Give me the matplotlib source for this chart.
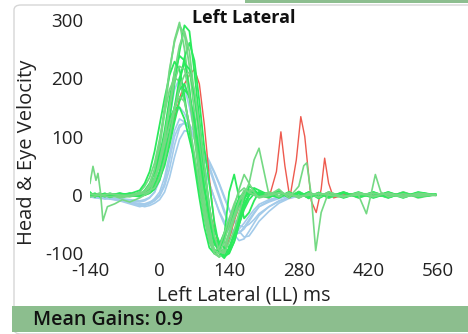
import matplotlib
matplotlib.use("Agg")
import matplotlib.pyplot as plt
from matplotlib.patches import FancyBboxPatch, Rectangle

plt.rcParams['font.family'] = ['Open Sans', 'DejaVu Sans']
plt.rcParams['axes.unicode_minus'] = False

# shared time grid (ms) for most traces
T = [-140, -130, -120, -110, -100, -80, -60, -40, -30, -20, -10,
     0, 10, 20, 30, 40, 50, 60, 70, 80, 90, 100, 110, 120, 130, 140,
     150, 160, 170, 180, 190, 200, 220, 240, 260, 280, 300, 320, 340,
     370, 400, 430, 460, 490, 520, 555]

GREEN_V = [
    [3, 0, -2, 2, 0, -3, 2, 0, 5, 15, 40,
     80, 140, 210, 265, 295, 250, 180, 100, 30, -30, -75, -100, -105, -90, -65, -40, -20, -5, 3, 5, 0,
     -5, 6, -3, 5, -6, 3, -4, 5, -5, 3, -4, 5, -5, 1],
    [-2, 2, 0, -3, 2, 0, -2, 2, 0, 5, 15,
     40, 80, 130, 190, 245, 290, 280, 210, 130, 50, -20, -70, -100, -108, -95, -70, -40, -15, 0, 5, 2,
     3, -5, 5, -3, 4, -6, 3, -3, 5, -4, 3, -5, 4, 0],
    [5, -3, 2, 0, -4, 2, 0, -3, 2, 10, 30,
     65, 110, 165, 210, 238, 230, 180, 110, 40, -10, -50, -75, -85, -80, -90, -70, -45, -20, 0, 12, 8,
     0, 7, -4, 6, -3, 4, -5, 3, -3, 5, -4, 3, -3, 1],
    [-3, 0, 3, -2, 0, -5, -2, 5, 15, 30, 55,
     95, 140, 180, 200, 195, 160, 120, 60, 10, -40, -80, -100, -90, -70, -55, -30, -10, 5, 10, 5, -2,
     4, -3, 3, -5, 4, -3, 5, -4, 3, -4, 5, -3, 3, -1],
    [0, 3, -2, 0, 3, -2, 3, -2, 0, 3, 10,
     25, 55, 95, 140, 190, 235, 260, 230, 160, 80, 20, -45, -90, -105, -100, -80, -50, -25, -8, 2, 5,
     -3, 5, -4, 3, -5, 4, -3, 5, -4, 3, -5, 4, -3, 1],
    [2, -2, 0, 3, -2, 0, 3, 0, 8, 20, 40,
     70, 100, 130, 148, 150, 130, 95, 60, 20, -25, -60, -85, -90, -75, -50, -25, -5, 5, 3, 0, -3,
     4, -3, 5, -4, 3, -3, 4, -5, 3, -3, 4, -3, 5, 0],
    [-1, 2, -3, 0, 2, -2, 0, 2, 5, 12, 28,
     55, 95, 150, 210, 255, 280, 245, 170, 90, 20, -55, -95, -106, -95, -70, -40, -15, 0, 8, 4, 0,
     -4, 3, -3, 5, -4, 3, -5, 4, -3, 3, -4, 5, -3, 1],
    [0, -3, 2, -2, 0, 3, -2, 0, 3, 8, 20,
     40, 70, 110, 150, 180, 190, 165, 115, 60, 10, -40, -80, -95, -70, 5, 35, -5, -40, -30, -10, 5,
     0, -4, 4, -3, 5, -3, 4, -4, 3, -5, 3, -3, 4, 0],
    [2, 0, -2, 2, -3, 0, 2, 8, 20, 40, 75,
     120, 165, 205, 228, 215, 170, 110, 50, -5, -55, -90, -100, -85, -65, -45, -30, -15, -5, 5, 3, -2,
     3, -4, 3, -3, 5, -4, 3, -3, 4, -3, 5, -4, 3, 0],
    [-2, 1, 3, -1, 2, 0, -3, 1, 6, 18, 45,
     90, 150, 215, 262, 290, 275, 220, 140, 60, -10, -75, -100, -106, -90, -65, -35, -10, 8, 6, 0, -4,
     5, -3, 4, -5, 3, -4, 5, -3, 4, -3, 3, -4, 3, 0],
    [1, -2, 0, 2, -1, 3, 0, -2, 0, 4, 12,
     30, 60, 100, 150, 200, 225, 215, 170, 110, 40, -20, -80, -100, -104, -90, -65, -35, -10, 15, 10, 0,
     -4, 4, -3, 3, -5, 4, -3, 4, -4, 3, -3, 4, -3, 1],
    [0, 2, -3, 1, -2, 2, -1, 0, 2, 6, 14,
     28, 50, 85, 125, 160, 180, 170, 130, 70, 10, -30, -60, -80, -90, -98, -80, -50, -20, 0, 5, 2,
     -3, 4, -4, 5, -3, 3, -4, 4, -3, 5, -4, 3, -3, 0],
]

# green traces with their own timing (artefact bumps)
G_EARLY_T = [-140, -134, -128, -124, -119, -114, -105, -90, -75, -60, -40, -20, -10,
             0, 10, 20, 30, 40, 50, 60, 70, 80, 90, 100, 110, 120, 130, 140, 150,
             160, 170, 180, 190, 200, 240, 280, 320, 370, 430, 490, 555]
G_EARLY_V = [20, 49, 25, 37, 5, -44, -20, -15, -8, -12, -5, 5, 25, 60, 100, 150, 195,
             220, 215, 170, 100, 40, -20, -65, -95, -100, -80, -50, -20, 10, 35, 20,
             5, -5, 3, -3, 2, -2, 3, -2, 0]

G_LATE_T = [-140, -100, -60, -30, -10, 0, 10, 20, 30, 40, 50, 60, 70, 80, 90, 100,
            110, 120, 130, 140, 150, 160, 170, 180, 190, 200, 210, 220, 240, 260,
            280, 290, 296, 305, 314, 325, 340, 370, 400, 430, 460, 490, 520, 555]
G_LATE_V = [-3, 2, -2, 3, 12, 30, 60, 100, 145, 185, 205, 210, 180, 120, 50, -20,
            -70, -95, -100, -80, -60, -30, 0, 20, 60, 80, 40, 0, 10, -5, 15, 50, 55,
            0, -95, -30, 5, -3, 2, -2, 3, -2, 2, 0]

G_TAIL_T = [-140, -100, -60, -30, -10, 0, 10, 20, 30, 40, 50, 60, 70, 80, 90, 100,
            110, 120, 130, 140, 150, 160, 170, 180, 200, 240, 280, 320, 360, 400,
            410, 416, 425, 434, 445, 460, 490, 520, 555]
G_TAIL_V = [2, -3, 0, 6, 25, 50, 85, 120, 150, 168, 160, 120, 70, 20, -30, -70,
            -95, -90, -65, -40, -15, 5, 12, 4, -3, 4, -2, 3, -3, 0, -20, -32, 0, 35,
            5, -3, 2, -2, 0]

BLUE_V = [
    [-3, -5, -4, -6, -5, -8, -12, -15, -15, -12, -8,
     0, 20, 60, 100, 120, 122, 115, 100, 80, 60, 45, 20, -5, -30, -50, -62, -65, -58, -45, -32, -20,
     -12, -6, -2, 0, 1, -1, 0, 1, -1, 0, 1, 0, -1, 0],
    [-2, -4, -6, -5, -7, -10, -15, -20, -18, -14, -6,
     5, 30, 70, 110, 130, 125, 115, 100, 85, 65, 50, 25, 0, -25, -50, -68, -78, -75, -62, -48, -35,
     -20, -10, -4, -1, 1, 0, -1, 1, 0, -1, 0, 1, 0, 0],
    [-4, -3, -5, -7, -6, -9, -13, -18, -20, -18, -14,
     -8, 5, 30, 65, 95, 110, 108, 98, 85, 70, 55, 38, 18, -5, -25, -42, -52, -55, -50, -42, -32,
     -20, -11, -5, -2, 0, 1, 0, -1, 0, 1, 0, -1, 0, 0],
    [-1, -3, -2, -4, -5, -6, -8, -10, -8, -4, 5,
     25, 60, 100, 135, 150, 140, 120, 95, 70, 45, 20, -5, -28, -45, -57, -62, -58, -48, -36, -25, -16,
     -8, -3, 0, 1, 0, -1, 0, 1, 0, -1, 0, 1, 0, 0],
    [-3, -2, -4, -3, -5, -7, -10, -12, -10, -5, 5,
     30, 75, 130, 180, 200, 185, 150, 110, 75, 45, 20, -5, -30, -50, -62, -68, -65, -55, -42, -30, -20,
     -10, -4, -1, 0, 1, 0, -1, 0, 1, 0, -1, 0, 1, 0],
    [-2, -4, -3, -5, -6, -9, -12, -16, -17, -15, -10,
     -2, 15, 45, 85, 115, 125, 120, 108, 92, 75, 58, 40, 20, -2, -25, -45, -62, -72, -70, -58, -45,
     -28, -14, -6, -2, 0, 1, 0, -1, 0, 1, 0, -1, 0, 0],
]

RED_T = [-140, -100, -60, -30, -10, 0, 10, 20, 30, 40, 50, 60, 70, 80, 90, 100, 110,
         120, 130, 140, 150, 160, 170, 180, 200, 220, 235, 244, 252, 262, 275, 284,
         292, 305, 315, 325, 332, 340, 350, 370, 400, 440, 480, 520, 555]
RED_V = [0, 2, -2, 3, 15, 30, 55, 90, 130, 165, 190, 205, 215, 190, 120, 30, -50,
         -95, -100, -75, -45, -20, -5, 5, 0, -5, 40, 108, 50, -5, 60, 134, 100, -10,
         -30, 10, 63, 20, -5, 0, 3, -2, 2, -1, 0]

X_TICKS = [-140, 0, 140, 280, 420, 560]
Y_TICKS = [-100, 0, 100, 200, 300]

BRIGHT = '#2BEA5C'
SOFT = '#74D983'
BLUE = '#A3CBEA'
RED = '#EE5A4E'

W, H = 468, 334
fig = plt.figure(figsize=(W / 100, H / 100), dpi=100)

# white panel with light border, green strips
fig.patches.append(FancyBboxPatch((14 / W, 0), 1.2, (H - 5) / H, boxstyle="round,pad=0,rounding_size=0.015",
                                  transform=fig.transFigure, facecolor='white', edgecolor='#D6D6D6',
                                  linewidth=1.0, zorder=-3))
fig.patches.append(Rectangle((245 / W, (H - 3) / H), 1, 3 / H, transform=fig.transFigure,
                             facecolor='#8DBE8F', edgecolor='none', zorder=-2))
fig.patches.append(Rectangle((12 / W, 2 / H), 1, 26 / H, transform=fig.transFigure,
                             facecolor='#8CBE8E', edgecolor='none', zorder=-2))

bottom_px, top_px = 260.5, 16.6
ax = fig.add_axes([90 / W, (H - bottom_px) / H, 348 / W, (bottom_px - top_px) / H])
ax.set_facecolor('none')

for v in BLUE_V:
    ax.plot(T, v, color=BLUE, linewidth=1.2)
ax.plot(RED_T, RED_V, color=RED, linewidth=1.0)
for i, v in enumerate(GREEN_V):
    ax.plot(T, v, color=BRIGHT if i % 3 else SOFT, linewidth=1.3)
ax.plot(G_EARLY_T, G_EARLY_V, color=SOFT, linewidth=1.2)
ax.plot(G_LATE_T, G_LATE_V, color=SOFT, linewidth=1.2)
ax.plot(G_TAIL_T, G_TAIL_V, color=SOFT, linewidth=1.2)

ax.set_xlim(-140, 560)
ax.set_ylim(-112, 305)
ax.set_xticks(X_TICKS)
ax.set_yticks(Y_TICKS)
ax.tick_params(length=0, labelsize=13.5, colors='#222222')
ax.tick_params(axis='y', pad=5)
ax.tick_params(axis='x', pad=1)
for s in ax.spines.values():
    s.set_visible(False)

fig.text(244 / W, 1 - 18 / H, 'Left Lateral', ha='center', va='center',
         fontsize=13, fontweight='bold', color='#111111')
fig.text(244 / W, 1 - 295 / H, 'Left Lateral (LL) ms', ha='center', va='center',
         fontsize=14.2, color='#222222')
fig.text(27 / W, 1 - 152 / H, 'Head & Eye Velocity', ha='center', va='center',
         rotation=90, fontsize=14.5, color='#222222')
fig.text(33 / W, 1 - 320 / H, 'Mean Gains: 0.9', ha='left', va='center',
         fontsize=14, fontweight='semibold', color='#111111')

fig.savefig('out.png', dpi=100)
